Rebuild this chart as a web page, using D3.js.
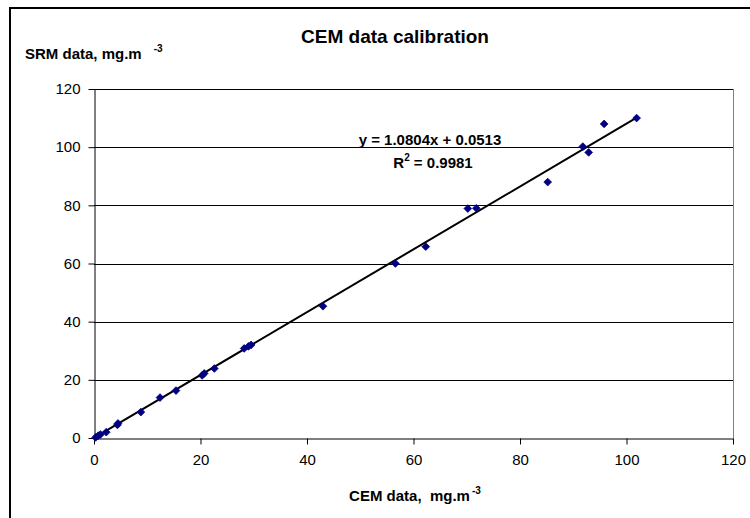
<!DOCTYPE html>
<html><head><meta charset="utf-8">
<script src="https://cdn.jsdelivr.net/npm/d3@7"></script>
<style>body{margin:0;background:#fff}text{font-family:"Liberation Sans",Arial,sans-serif}</style>
</head><body><svg id="c" width="750" height="518"></svg>
<script>
const cemData = [0.3, 0.8, 1.2, 2.3, 4.4, 4.5, 8.8, 12.4, 15.4, 20.3, 20.7, 22.6, 28.2, 29.0, 29.5, 43.0, 56.6, 62.3, 70.2, 71.8, 85.2, 91.8, 92.9, 95.8, 101.9];
const srmData = [0.2, 0.8, 1.2, 2.0, 4.5, 5.0, 8.9, 13.9, 16.3, 21.5, 22.2, 23.9, 30.8, 31.5, 32.0, 45.3, 60.0, 65.8, 78.9, 79.0, 88.0, 100.2, 98.2, 108.0, 110.0];
const xTicks = [0, 20, 40, 60, 80, 100, 120];
const yTicks = [0, 20, 40, 60, 80, 100, 120];
const slope = 1.0804, intercept = 0.0513;
const equationText = "y = 1.0804x + 0.0513";
const r2Text = " = 0.9981";
const titleText = "CEM data calibration";

const svg = d3.select("#c");
const L = 94, R = 733, T = 89, B = 438;
const x = d3.scaleLinear().domain([0, 120]).range([L, R]);
const y = d3.scaleLinear().domain([0, 120]).range([B, T]);

// outer chart border
svg.append("rect").attr("x", 10).attr("y", 8).attr("width", 780).attr("height", 540)
  .attr("fill", "none").attr("stroke", "#000").attr("stroke-width", 2);

// gridlines
svg.append("g").selectAll("line").data(yTicks.filter(d => d > 0)).join("line")
  .attr("x1", L).attr("x2", R).attr("y1", d => Math.round(y(d)) + 0.5).attr("y2", d => Math.round(y(d)) + 0.5)
  .attr("stroke", "#000").attr("stroke-width", 1);
// right border of plot
svg.append("line").attr("x1", R + 0.5).attr("x2", R + 0.5).attr("y1", T).attr("y2", B)
  .attr("stroke", "#808080");

// axes
const xAxis = svg.append("g").attr("transform", `translate(0,${B + 0.5})`)
  .call(d3.axisBottom(x).tickValues(xTicks).tickSize(6).tickSizeOuter(0).tickPadding(10));
const yAxis = svg.append("g").attr("transform", `translate(${L + 0.5},0)`)
  .call(d3.axisLeft(y).tickValues(yTicks).tickSize(6).tickSizeOuter(0).tickPadding(8));
[xAxis, yAxis].forEach(a => {
  a.selectAll("path").attr("stroke", "#000");
  a.selectAll("line").attr("stroke", "#000");
  a.selectAll("text").attr("font-size", 15).attr("fill", "#000")
    .style("font-family", '"Liberation Sans",Arial,sans-serif');
});

// trend line
const x0 = 0, x1 = d3.max(cemData);
svg.append("line").attr("x1", x(x0)).attr("y1", y(slope * x0 + intercept))
  .attr("x2", x(x1)).attr("y2", y(slope * x1 + intercept))
  .attr("stroke", "#000").attr("stroke-width", 2);

// markers
const pts = cemData.map((d, i) => [d, srmData[i]]);
svg.append("g").selectAll("path").data(pts).join("path")
  .attr("d", d3.symbol(d3.symbolDiamond2, 38))
  .attr("transform", d => `translate(${x(d[0])},${y(d[1])})`)
  .attr("fill", "#000080").attr("stroke", "#000080").attr("stroke-width", 0.8);

// title
svg.append("text").attr("x", 395).attr("y", 43).attr("text-anchor", "middle")
  .attr("font-size", 19).attr("font-weight", "bold").text(titleText);

// y title
const yt = svg.append("text").attr("x", 25).attr("y", 59).attr("font-size", 15).attr("font-weight", "bold");
yt.append("tspan").text("SRM data, mg.m");
yt.append("tspan").attr("dx", 12).attr("dy", -7).attr("font-size", 10).text("-3");

// x title
const xt = svg.append("text").attr("x", 415).attr("y", 501).attr("text-anchor", "middle")
  .attr("font-size", 15).attr("font-weight", "bold");
xt.append("tspan").text("CEM data,\u00a0\u00a0mg.m");
xt.append("tspan").attr("dx", 2).attr("dy", -7).attr("font-size", 10).text("-3");

// equation
svg.append("text").attr("x", 430).attr("y", 145).attr("text-anchor", "middle")
  .attr("font-size", 15).attr("font-weight", "bold").text(equationText);
const r2 = svg.append("text").attr("x", 433).attr("y", 168).attr("text-anchor", "middle")
  .attr("font-size", 15).attr("font-weight", "bold");
r2.append("tspan").text("R");
r2.append("tspan").attr("dy", -7).attr("font-size", 10).text("2");
r2.append("tspan").attr("dy", 7).text(r2Text);
</script></body></html>
